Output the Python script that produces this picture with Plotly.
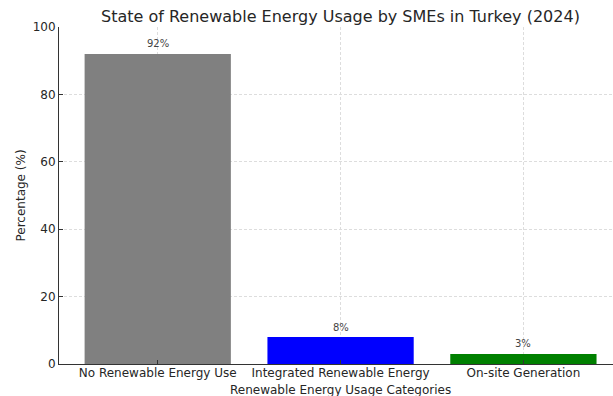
import plotly.graph_objects as go

categories = ["No Renewable Energy Use", "Integrated Renewable Energy", "On-site Generation"]
values = [92, 8, 3]
labels = ["92%", "8%", "3%"]
colors = ["#808080", "#0000ff", "#008000"]

xs = list(range(len(categories)))
FONT = "DejaVu Sans"

fig = go.Figure()
fig.add_trace(go.Bar(
    x=xs, y=values, width=0.8,
    marker=dict(color=colors, line=dict(width=0)),
    hoverinfo="skip",
))

for x, v, t in zip(xs, values, labels):
    fig.add_annotation(x=x, y=v, text=t, showarrow=False, yshift=10, yanchor="middle",
                       xref="x", yref="y", font=dict(family=FONT, size=10, color="#444444"))

fig.add_annotation(text="State of Renewable Energy Usage by SMEs in Turkey (2024)",
                   xref="paper", yref="paper", x=(340-59)/(613-59), y=1, yshift=11,
                   xanchor="center", yanchor="middle",
                   showarrow=False, font=dict(family=FONT, size=16, color="#262626"))
fig.add_annotation(text="Renewable Energy Usage Categories",
                   xref="paper", yref="paper", x=(340-59)/(613-59), y=0, yshift=-26,
                   xanchor="center", yanchor="middle",
                   showarrow=False, font=dict(family=FONT, size=12, color="#262626"))
fig.add_annotation(text="Percentage (%)", textangle=-90,
                   xref="paper", yref="paper", x=0, xshift=-39, y=0.5,
                   xanchor="center", yanchor="middle",
                   showarrow=False, font=dict(family=FONT, size=12, color="#262626"))

fig.update_layout(
    width=613, height=396,
    margin=dict(l=59, r=0, t=27, b=32),
    paper_bgcolor="white", plot_bgcolor="white",
    showlegend=False,
    font=dict(family=FONT, size=12, color="#262626"),
    xaxis=dict(
        range=[-0.54, 2.49], tickvals=xs, ticktext=categories,
        showgrid=True, gridcolor="#dddddd", griddash="3px,2px", gridwidth=0.8,
        showline=True, linecolor="#333333", linewidth=1,
        ticks="inside", ticklen=4, tickcolor="#333333",
        zeroline=False, layer="above traces", ticklabelstandoff=-2,
        tickfont=dict(family=FONT, size=12, color="#262626"),
    ),
    yaxis=dict(
        range=[0, 100], tickvals=[0, 20, 40, 60, 80, 100],
        showgrid=True, gridcolor="#dddddd", griddash="3px,2px", gridwidth=0.8,
        showline=True, linecolor="#333333", linewidth=1,
        ticks="inside", ticklen=4, tickcolor="#333333",
        zeroline=False, layer="above traces",
        tickfont=dict(family=FONT, size=12, color="#262626"),
    ),
)

fig.write_html("out.html")
